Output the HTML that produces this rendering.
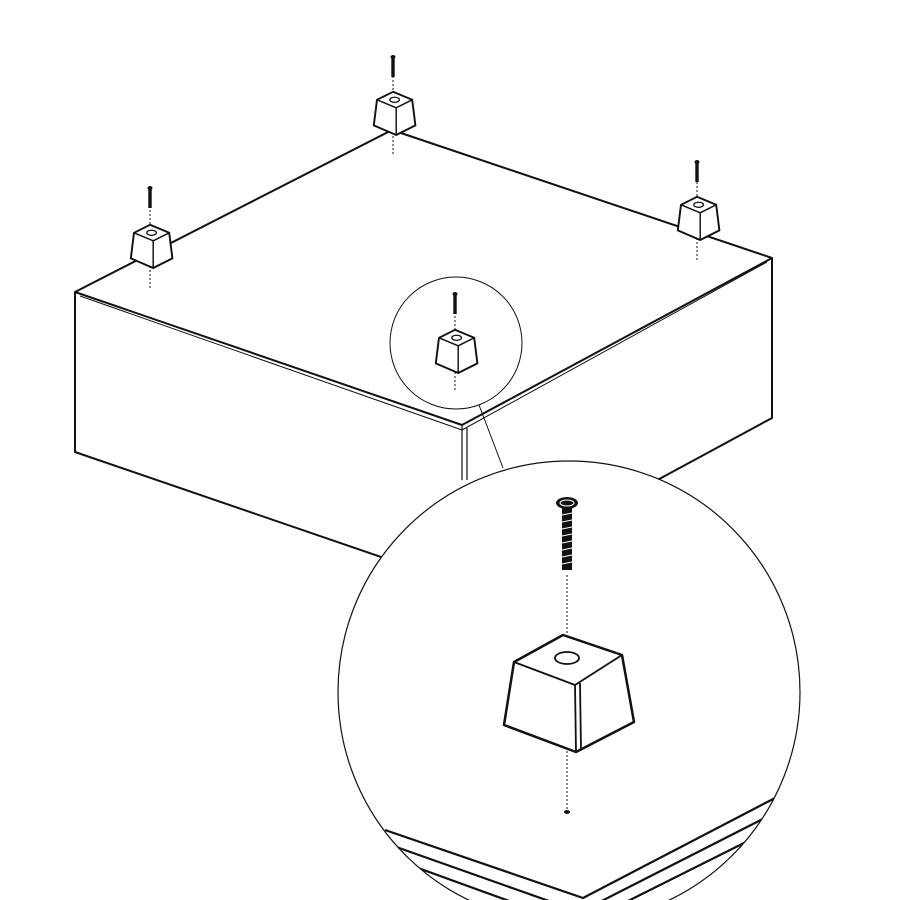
<!DOCTYPE html>
<html><head><style>body{margin:0;background:#fff}svg{display:block}</style></head><body>
<svg width="900" height="900" viewBox="0 0 900 900" xmlns="http://www.w3.org/2000/svg">
<defs>
<clipPath id="big"><circle cx="569" cy="692" r="231"/></clipPath>
<g id="foot">
<g transform="scale(1.6)">
<path d="M-10,-12 L0,-17 L12,-12 L14,4 L2,10 L-12,4 Z" fill="#fff" stroke="#111" stroke-width="1.2" stroke-linejoin="round"/>
<path d="M-10,-12 L2,-7 L12,-12 M2,-7 L2,10" fill="none" stroke="#111" stroke-width="0.9"/>
<ellipse cx="1" cy="-12" rx="3" ry="1.6" fill="none" stroke="#111" stroke-width="0.8"/>
</g>
</g>
<g id="screw">
<ellipse cx="0" cy="0" rx="2.5" ry="2" fill="#111"/>
<rect x="-1.7" y="0" width="3.4" height="20" fill="#111"/>
</g>
</defs>
<g fill="none" stroke="#111" stroke-linejoin="round">
<path d="M75,292 L392,130 L772,258 L462,425 Z" stroke-width="2"/>
<path d="M80,296 L462,430 L767,262" stroke-width="1"/>
<path d="M75,292 L75,452 L390,560" stroke-width="2"/>
<path d="M772,258 L772,418 L650,484" stroke-width="2"/>
<path d="M462,425 L462,480 M467,428 L467,480" stroke-width="1.2"/>
<circle cx="456" cy="343" r="66" fill="#fff" stroke-width="1"/>
<line x1="479" y1="405" x2="503" y2="468" stroke-width="1"/>
<circle cx="569" cy="692" r="231" fill="#fff" stroke-width="1.2"/>
<g clip-path="url(#big)" stroke-width="2.2">
<path d="M385,830 L583,898 L800,785"/>
<path d="M385,843 L580,912 L800,800"/>
<path d="M385,856 L578,926 L800,815"/>
</g>
</g>
<g stroke="#111" stroke-width="1" stroke-dasharray="2,2">
<line x1="150" y1="206" x2="150" y2="288"/>
<line x1="393" y1="72" x2="393" y2="156"/>
<line x1="697" y1="178" x2="697" y2="262"/>
<line x1="455" y1="308" x2="455" y2="392"/>
<line x1="567" y1="575" x2="567" y2="810"/>
</g>
<use href="#screw" x="150" y="188"/>
<use href="#foot" x="150" y="252"/>
<use href="#screw" x="393" y="57"/>
<use href="#foot" x="393" y="119"/>
<use href="#screw" x="697" y="162"/>
<use href="#foot" x="697" y="224"/>
<use href="#screw" x="455" y="294"/>
<use href="#foot" x="455" y="357"/>
<g fill="#fff" stroke="#111" stroke-linejoin="round">
<path d="M514,662 L563,635 L622,655 L634,722 L576,752 L504,725 Z" stroke-width="2.5"/>
<path d="M514,662 L575,685 L622,655 M575,685 L576,752 M580,683 L581,750" fill="none" stroke-width="1.8"/>
<ellipse cx="567" cy="658" rx="12" ry="6" fill="none" stroke-width="1.8"/>
</g>
<g fill="#111">
<ellipse cx="567" cy="503" rx="11" ry="6"/>
<rect x="562" y="508" width="10" height="62"/>
<ellipse cx="567" cy="812" rx="3" ry="2"/>
</g>
<g stroke="#fff" stroke-width="1">
<ellipse cx="567" cy="503" rx="7" ry="3" fill="none"/>
<path d="M562,515 L572,513 M562,522 L572,520 M562,529 L572,527 M562,536 L572,534 M562,543 L572,541 M562,550 L572,548 M562,557 L572,555 M562,564 L572,562"/>
</g>
</svg>
</body></html>
